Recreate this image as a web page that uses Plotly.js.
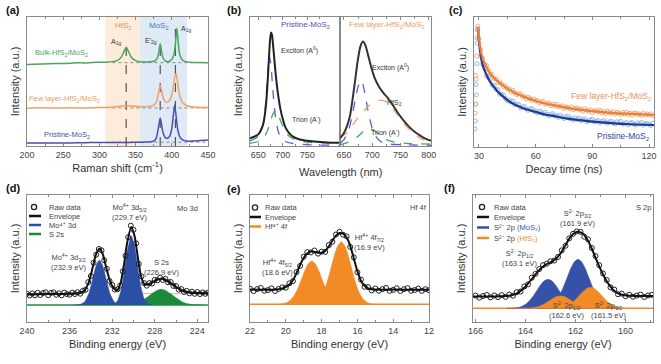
<!DOCTYPE html>
<html><head><meta charset="utf-8">
<script src="https://cdn.plot.ly/plotly-3.0.1.min.js"></script>
<style>html,body{margin:0;padding:0;background:#fff;}#chart{width:661px;height:364px;}</style>
</head><body><div id="chart"></div>
<script>
// ---------- (a) Raman ----------
const ramanTicks = [200,250,300,350,400,450];
const ramanMinor = [225,275,325,375,425];
const pristineX = [200,220,240,260,280,300,320,340,360,370,375,378,380,382,384,386,388,391,394,397,400,402,404,406,408,411,415,420,430,440,450];
const pristineY = [2.3,2.3,2.4,2.4,2.5,2.8,2.7,2.8,3.0,3.2,3.8,5.5,9.5,15.8,21.7,16.0,10.0,6.5,6.0,7.5,13.5,23.0,31.8,22.9,13.3,7.3,4.8,3.8,3.8,4.2,4.7];
const fewX = [200,220,240,260,280,300,320,330,340,350,360,370,375,378,380,382,384,386,388,391,394,397,400,402,404,406,408,411,415,420,430,440,450];
const fewY = [29.3,29.6,29.4,29.6,29.5,29.8,30.3,31.0,31.2,30.8,30.3,30.8,31.5,33.5,36.5,42.0,47.0,42.5,37.5,34.5,34.0,35.5,39.5,45.5,53.5,56.0,49.0,39.0,33.5,31.4,30.2,29.8,29.8];
const bulkX = [200,220,240,260,270,280,290,300,310,320,325,330,334,337,340,344,350,360,370,376,380,382,384,386,388,391,395,400,403,405,407,409,411,414,418,425,435,450];
const bulkY = [63.2,63.6,63.9,64.2,64.6,64.4,64.8,64.9,65.0,65.6,66.4,68.7,73.4,76.6,73.4,68.8,66.2,65.2,65.3,65.8,68.2,72.8,79.3,72.8,68.2,66.0,65.3,67.2,70.9,79.4,91.3,79.4,70.9,67.1,65.6,64.9,64.7,64.6];
const ramanPeakPos = [337,384,405];
const ramanPeakTop = [77,81,91];
const ramanBaseLevels = [3.0,29.5,64.6];
const ramanBaseStart = 318;
const hfs2Region = [308,356];
const mos2Region = [356,421];

// ---------- (b) PL ----------
const wlTicks = [650,700,750];
const wlMinor = [675,725,775];
const wlTicksR = [650,700,750,800];
const wlMinorR = [675,725,775];
const plLX = [633,640,650,655,660,664,667,670,672,674,676,678,680,683,686,690,695,700,706,713,722,735,750,770,790,817];
const plLY = [6,7,9,12,17,26,38,56,70,82,88,86,79,66,54,41,29,21,14,10,7,5,4,3.2,2.8,2.5];
const plLExX = [633,640,650,655,660,663,666,669,672.5,676,679,682,686,691,697,705,720,750,817];
const plLExY = [4,5,8,11,17,25,38,56,70,62,47,33,20,11,6,3.5,2,1,0.5];
const plLTrX = [633,650,660,668,674,679,684.7,690,696,703,712,725,745,770,817];
const plLTrY = [2,3.5,6,11,18,24,27.7,25,19,13,8,5,3.2,2.5,2];
const plRX = [643,650,660,668,674,679,683.6,688,693,699,705,712,720,728,736,745,755,765,775,785,795,804];
const plRY = [6,10,22,45,65,77,81,78,70,60,52,46,41,37,32,26,20,15,11,8,5.5,4];
const plRExX = [643,650,658,664,670,675,679.6,684,689,694,700,707,715,730,760,804];
const plRExY = [2,5,12,22,36,46,51,47,36,24,14,7,3.5,1.5,1,0.5];
const plRHfX = [643,655,665,675,685,695,705,715,722,730,740,750,760,770,780,790,804];
const plRHfY = [7,10,16,22,27,31.5,34.5,35.5,35,32.5,27,21,15.5,11,7.5,5,3];
const plRTrX = [643,655,665,675,685,696,705,715,725,740,760,804];
const plRTrY = [1,2.5,4.5,7.5,11.5,13.6,11.5,8,5,3,2,1.5];

// ---------- (c) TRPL ----------
const decayTicks = [30,60,90,120];
const decayMinor = [45,75,105];
const cRawX = [30,31,32,33,34,35,36,37,38,39,40,41,42,43,44,45,46,47,48,49,50,51,52,53,54,55,56,57,58,59,60,61,62,63,64,65,66,67,68,69,70,71,72,73,74,75,76,77,78,79,80,81,82,83,84,85,86,87,88,89,90,91,92,93,94,95,96,97,98,99,100,101,102,103,104,105,106,107,108,109,110,111,112,113,114,115,116,117,118,119,120,121,122];
const cFewRaw = [83.5,74.9,68.2,63.5,62.6,59.4,55.8,55.9,52.8,52.3,49.4,50.1,48.4,46.4,47.0,44.7,44.7,42.3,43.7,41.7,40.2,40.9,40.9,38.8,38.8,37.0,38.4,37.3,35.9,37.0,35.3,35.8,33.8,34.7,35.0,33.0,33.4,33.8,31.8,32.9,31.7,32.9,30.8,31.2,31.7,29.6,30.8,30.4,29.5,30.8,28.7,29.6,29.9,28.5,29.2,27.6,29.3,28.3,27.4,28.6,26.5,27.8,28.0,27.0,28.3,26.3,27.2,25.9,27.5,26.5,25.9,27.2,25.4,26.6,26.2,25.0,26.6,25.4,26.8,25.1,25.9,24.4,26.0,26.2,25.0,25.5,24.3,26.0,24.6,25.4,24.7,25.5,24.1];
const cPriRaw = [83.3,69.6,63.9,60.8,54.9,53.4,51.5,47.7,47.1,44.4,44.2,40.7,40.6,39.9,37.4,35.5,36.2,34.8,35.4,32.5,32.9,32.7,30.2,30.6,31.2,29.3,28.2,29.2,29.6,27.6,27.7,26.1,27.6,26.7,25.3,26.6,25.1,23.9,25.3,25.7,23.9,24.2,22.8,24.4,23.2,21.9,23.2,23.7,21.7,22.1,20.8,22.4,21.4,22.3,20.3,21.2,21.6,19.4,20.1,20.8,21.3,19.3,19.9,20.3,18.6,19.7,20.3,18.9,18.2,19.4,19.9,18.6,17.6,19.4,18.7,19.8,17.6,18.2,18.8,17.0,18.4,18.9,17.5,17.1,18.5,17.9,18.9,16.8,17.9,18.1,17.3,16.5,18.2];
const cEdgeFewX = [28.0,28.2,28.4,28.6,28.8,29.0,29.2,29.4];
const cEdgeFewY = [26,55,33,52,70,84,90,93];
const cEdgePriX = [27.9,28.1,28.3,28.5,28.7,28.9,29.1,29.3];
const cEdgePriY = [14,20,33,48,40,64,80,91];
const cFitX = [29.5,30,31,32,33,34,36,38,40,43,46,50,55,60,65,70,76,83,90,100,110,123];
const cFewFit = [92,84,74,68,64.5,61.5,56.5,53,50.5,47,44,41,38,35.5,33.5,32,30.3,28.8,27.6,26.3,25.5,24.6];
const cPriFit = [92,82,70,63,59,55.5,50,46,42.5,38.5,35,32,29,27,25,23.7,22,20.7,19.5,18.3,17.5,16.9];

// ---------- (d) Mo 3d ----------
const moTicks = [240,236,232,228,224];
const moMinor = [238,234,230,226];
const dRawX = [240,239.75,239.5,239.25,239,238.75,238.5,238.25,238,237.75,237.5,237.25,237,236.75,236.5,236.25,236,235.75,235.5,235.25,235,234.75,234.5,234.25,234,233.75,233.5,233.25,233,232.75,232.5,232.25,232,231.75,231.5,231.25,231,230.75,230.5,230.25,230,229.75,229.5,229.25,229,228.75,228.5,228.25,228,227.75,227.5,227.25,227,226.75,226.5,226.25,226,225.75,225.5,225.25,225,224.75,224.5,224.25,224,223.75,223.5,223.25,223];
const dRawY = [22.3,20.9,22.5,21.0,23.0,21.2,22.8,23.4,21.1,22.9,23.3,21.4,22.6,21.0,23.2,22.0,21.5,23.1,22.0,23.5,22.3,24.6,25.4,31.4,36.2,46.6,53.0,57.5,56.4,48.6,41.9,32.3,29.2,25.5,25.8,28.7,39.9,52.1,66.8,75.8,72.6,61.9,45.7,35.9,30.6,28.6,30.7,30.3,33.2,32.8,34.9,33.1,34.0,31.3,31.5,28.4,28.3,25.5,25.9,23.6,24.5,22.6,23.9,22.2,23.6,22.0,23.3,22.2,23.1];
const dEnvX = [240,239,238,237,236,235.5,235,234.6,234.2,233.8,233.5,233.2,232.9,232.6,232.2,231.8,231.5,231.2,230.9,230.6,230.2,229.9,229.6,229.3,229,228.6,228.2,227.8,227.4,227,226.5,226,225.5,225,224.5,224,223];
const dEnvY = [21.8,21.9,22.0,22.0,22.2,22.4,22.8,24.8,31.3,44.0,53.7,57.6,53.9,44.3,32.0,26.2,25.0,30.9,44.6,62.0,74.8,67.7,51.5,36.4,30.0,29.5,31.3,33.3,34.1,33.3,30.6,27.6,25.0,23.6,23.0,22.8,22.7];
const dMo1X = [235.6,235.5,235,234.6,234.2,233.8,233.5,233.2,232.9,232.6,232.2,231.8,231.5,231.2,231.1];
const dMo1Y = [13.4,13.4,13.8,15.7,22.2,34.9,44.6,48.8,44.6,34.9,22.2,15.7,14.0,13.4,13.4];
const dMo2X = [232.3,232,231.8,231.5,231.2,230.9,230.6,230.2,229.9,229.6,229.3,229,228.6,228.3];
const dMo2Y = [13.4,13.7,14.2,16.7,23.8,37.6,55.1,67.7,60.2,43.3,27.6,18.4,14.2,13.4];
const dS2sX = [231.5,230.5,230,229.5,229,228.6,228.2,227.8,227.4,227,226.5,226,225.5,225,224.5,224,223.5];
const dS2sY = [13.4,13.6,14.2,15.4,17.7,20.2,22.8,24.9,25.7,24.9,22.2,19.0,16.2,14.5,13.8,13.5,13.4];
const dBaseX = [240,223];
const dBaseY = [13.4,13.4];
const dBgX = [229.3,225.2];
const dBgY = [22.4,22.4];

// ---------- (e) Hf 4f ----------
const hfTicks = [22,20,18,16,14,12];
const hfMinor = [21,19,17,15,13];
const eRawX = [22,21.8,21.6,21.4,21.2,21,20.8,20.6,20.4,20.2,20,19.8,19.6,19.4,19.2,19,18.8,18.6,18.4,18.2,18,17.8,17.6,17.4,17.2,17,16.8,16.6,16.4,16.2,16,15.8,15.6,15.4,15.2,15,14.8,14.6,14.4,14.2,14,13.8,13.6,13.4,13.2,13,12.8,12.6,12.4,12.2,12];
const eRawY = [26.2,24.3,25.9,26.8,24.6,25.1,26.5,24.4,26.0,27.3,27.0,30.4,32.2,39.3,44.2,51.4,55.0,54.8,56.3,53.8,55.4,55.2,60.5,63.2,68.9,71.0,68.7,67.4,59.1,50.9,39.2,33.4,27.7,27.5,24.9,26.4,24.6,25.9,26.8,24.5,25.3,26.6,24.4,25.8,26.7,24.6,25.2,26.3,24.5,25.8,25.0];
const eEnvX = [22,21,20.5,20.2,20,19.8,19.6,19.4,19.2,19,18.8,18.6,18.4,18.2,18,17.8,17.6,17.4,17.2,17,16.8,16.6,16.4,16.2,16,15.8,15.6,15.4,15.2,15,14,13,12];
const eEnvY = [25.5,25.4,25.6,26.5,27.5,29.5,33,38.5,45,50.5,54,55.5,55.2,54.5,54.5,56,59.5,64,68,70,69.5,66.5,60,50,40,32.5,28.5,26.5,25.8,25.5,25.5,25.4,25.3];
const eHf1X = [20.55,20.35,20.15,19.95,19.75,19.55,19.35,19.15,18.95,18.75,18.55,18.35,18.15,17.95,17.75,17.55,17.35,17.15,16.95,16.75,16.55];
const eHf1Y = [13.9,14.06,14.4,15.2,17.1,20.4,25.7,32.7,40.1,45.8,48.0,45.8,40.1,32.7,25.7,20.4,17.1,15.2,14.4,14.06,13.9];
const eHf2X = [18.9,18.7,18.5,18.3,18.1,17.9,17.7,17.5,17.3,17.1,16.9,16.7,16.5,16.3,16.1,15.9,15.7,15.5,15.3,15.1,14.9];
const eHf2Y = [13.9,14.1,14.6,15.8,18.5,23.3,31.0,41.1,51.8,60.0,63.2,60.0,51.8,41.1,31.0,23.3,18.5,15.8,14.6,14.1,13.9];
const eBaseX = [22,12];
const eBaseY = [13.9,13.9];

// ---------- (f) S 2p ----------
const sTicks = [166,164,162,160];
const sMinor = [165,163,161,159];
const fRawX = [166,165.85,165.7,165.55,165.4,165.25,165.1,164.95,164.8,164.65,164.5,164.35,164.2,164.05,163.9,163.75,163.6,163.45,163.3,163.15,163,162.85,162.7,162.55,162.4,162.25,162.1,161.95,161.8,161.65,161.5,161.35,161.2,161.05,160.9,160.75,160.6,160.45,160.3,160.15,160,159.85,159.7,159.55,159.4,159.25,159.1,158.95];
const fRawY = [20.8,19.2,20.5,21.3,19.4,20.9,19.6,21.2,19.8,21.6,20.7,23.5,24.0,28.0,29.6,34.9,37.9,41.7,44.8,45.9,47.8,48.4,51.2,56.4,60.0,65.9,69.4,71.3,71.0,67.2,65.1,58.3,51.9,44.7,38.2,33.0,27.3,25.6,21.8,22.3,20.3,21.5,19.9,20.8,21.6,19.7,20.9,21.4];
const fEnvX = [166.1,165.5,165,164.7,164.4,164.2,164,163.8,163.6,163.4,163.2,163,162.8,162.6,162.4,162.2,162,161.9,161.7,161.5,161.3,161.1,160.9,160.7,160.5,160.3,160.1,159.8,159.5,158.9];
const fEnvY = [20.0,20.0,20.2,20.6,22,24.5,28,32.5,37.5,42,45,47,49.5,54,60.5,67,70.5,71,69.5,64,55.5,46,37.5,30.5,25.5,22.5,21.2,20.6,20.5,20.5];
const fMoAX = [164.75,164.6,164.45,164.3,164.15,164,163.85,163.7,163.55,163.4,163.25,163.1,162.95,162.8,162.65,162.5,162.35,162.2,162.05,161.9,161.75,161.6,161.45];
const fMoAY = [10.8,10.9,11.05,11.45,12.3,13.9,16.5,20.2,24.6,29.1,32.4,33.6,32.4,29.1,24.6,20.2,16.5,13.9,12.3,11.45,11.05,10.9,10.8];
const fMoBX = [163.55,163.4,163.25,163.1,162.95,162.8,162.65,162.5,162.35,162.2,162.05,161.9,161.75,161.6,161.45,161.3,161.15,161,160.85,160.7,160.55,160.4,160.25];
const fMoBY = [10.8,10.95,11.2,11.9,13.35,16.0,20.4,26.7,34.2,41.7,47.3,49.4,47.3,41.7,34.2,26.7,20.4,16.0,13.35,11.9,11.2,10.95,10.8];
const fHfCX = [164.25,164.1,163.95,163.8,163.65,163.5,163.35,163.2,163.05,162.9,162.75,162.6,162.45,162.3,162.15,162,161.85,161.7,161.55,161.4,161.25,161.1,160.95];
const fHfCY = [10.8,10.84,10.9,11.1,11.45,12.1,13.2,14.8,16.7,18.6,20.0,20.5,20.0,18.6,16.7,14.8,13.2,12.1,11.45,11.1,10.9,10.84,10.8];
const fHfDX = [163.05,162.9,162.75,162.6,162.45,162.3,162.15,162,161.85,161.7,161.55,161.4,161.25,161.1,160.95,160.8,160.65,160.5,160.35,160.2,160.05,159.9,159.75];
const fHfDY = [10.8,10.86,11.0,11.3,11.9,13.0,14.9,17.6,20.8,24.0,26.4,27.3,26.4,24.0,20.8,17.6,14.9,13.0,11.9,11.3,11.0,10.86,10.8];
const fBaseX = [166.1,158.9];
const fBaseY = [10.8,10.8];

// ---------- layout helpers ----------
const W = 661, H = 364;
const fx = p => p / W, fy = p => 1 - p / H;
const FONT = 'Liberation Sans, Arial, sans-serif';
const GRAY = '#8a8a8a';
const C = {
  green:'#4aa65a', orange:'#f3a062', purple:'#4c4fa6', blueDash:'#5a5fd0', greenDash:'#46a85a', orangeDash:'#f3a062',
  cBlueRaw:'#8dbbe8', cOrgRaw:'#f4a974', cBlueFit:'#26358f', cOrgFit:'#e8803a',
  dBlue:'#2b4ea6', dGreen:'#1b8b3b', hfOrange:'#f28a26', fBlue:'#3651a8'
};
const boxes = {
  a:[27,208,17,146], bL:[250,340,17,146], bR:[340,431,17,146], c:[474,654,17,147],
  d:[27,208,195,322], e:[250,429,195,322], f:[473,653,195,322]
};
function dom(b){ return {x:[fx(b[0]), fx(b[1])], y:[fy(b[3]), fy(b[2])]}; }
function mkX(b, anchor, range, tv, mv, title){
  const d = dom(b);
  return {domain:d.x, anchor:anchor, range:range, autorange:false, showline:true, mirror:'ticks', linecolor:GRAY, linewidth:1,
    ticks:'inside', ticklen:3, tickwidth:1, tickcolor:GRAY, tickmode:'array', tickvals:tv, showgrid:false, zeroline:false,
    tickfont:{family:FONT, size:9, color:'#444'},
    minor:{tickmode:'array', tickvals:mv, ticks:'inside', ticklen:2, tickcolor:GRAY, showgrid:false},
    title: title ? {text:title, font:{family:FONT, size:11, color:'#333'}, standoff:5} : {text:''}};
}
function mkY(b, anchor, titled){
  const d = dom(b);
  return {domain:d.y, anchor:anchor, range:[0,100], autorange:false, showline:true, mirror:true, linecolor:GRAY, linewidth:1,
    ticks:'', showticklabels:false, showgrid:false, zeroline:false,
    title: titled ? {text:'Intensity (a.u.)', font:{family:FONT, size:11, color:'#333'}, standoff:4} : {text:''}};
}
function ln(xa, ya, x, y, color, width, dash, shape){
  return {type:'scatter', mode:'lines', xaxis:xa, yaxis:ya, x:x, y:y, line:{color:color, width:width, dash:dash||'solid', shape:shape||'spline', smoothing:0.7}, hoverinfo:'skip', showlegend:false};
}
function fl(xa, ya, x, y, color){
  return {type:'scatter', mode:'lines', xaxis:xa, yaxis:ya, x:x, y:y, fill:'toself', fillcolor:color, line:{color:color, width:0.5, shape:'spline', smoothing:0.5}, hoverinfo:'skip', showlegend:false};
}
function pts(xa, ya, x, y, color, size){
  return {type:'scatter', mode:'markers', xaxis:xa, yaxis:ya, x:x, y:y, marker:{symbol:'circle-open', size:size, color:color, line:{width:1, color:color}}, hoverinfo:'skip', showlegend:false};
}
function T(px, py, text, color, size, xa){
  return {xref:'paper', yref:'paper', x:fx(px), y:fy(py), text:text, showarrow:false, borderpad:0,
    font:{family:FONT, size:size||7.5, color:color||'#444'}, xanchor:xa||'center', yanchor:'middle'};
}

const traces = [];
// (a)
ramanPeakPos.forEach((p,i) => traces.push(ln('x','y',[p,p],[0,ramanPeakTop[i]],'#555',1.2,'dash','linear')));
ramanBaseLevels.forEach(v => traces.push(ln('x','y',[ramanBaseStart,ramanTicks[ramanTicks.length-1]],[v,v],'#888',1,'dot','linear')));
traces.push(ln('x','y',pristineX,pristineY,C.purple,1.5));
traces.push(ln('x','y',fewX,fewY,C.orange,1.5));
traces.push(ln('x','y',bulkX,bulkY,C.green,1.5));
// (b)
traces.push(ln('x2','y2',plLExX,plLExY,C.blueDash,1.3,'dash'));
traces.push(ln('x2','y2',plLTrX,plLTrY,C.greenDash,1.3,'dash'));
traces.push(ln('x2','y2',plLX,plLY,'#222',2));
traces.push(ln('x3','y3',plRExX,plRExY,C.blueDash,1.3,'dash'));
traces.push(ln('x3','y3',plRHfX,plRHfY,C.orangeDash,1.3,'dash'));
traces.push(ln('x3','y3',plRTrX,plRTrY,C.greenDash,1.3,'dash'));
traces.push(ln('x3','y3',plRX,plRY,'#333',2));
// (c)
traces.push(pts('x4','y4',cRawX,cPriRaw,C.cBlueRaw,4));
traces.push(pts('x4','y4',cEdgePriX,cEdgePriY,C.cBlueRaw,4));
traces.push(pts('x4','y4',cRawX,cFewRaw,C.cOrgRaw,4));
traces.push(pts('x4','y4',cEdgeFewX,cEdgeFewY,C.cOrgRaw,4));
traces.push(ln('x4','y4',cFitX,cPriFit,C.cBlueFit,2.2));
traces.push(ln('x4','y4',cFitX,cFewFit,C.cOrgFit,2.2));
// (d)
traces.push(ln('x5','y5',dBaseX,dBaseY,C.dGreen,1.5,'solid','linear'));
traces.push(ln('x5','y5',dBgX,dBgY,'#c9c48a',1,'solid','linear'));
traces.push(fl('x5','y5',dS2sX,dS2sY,C.dGreen));
traces.push(fl('x5','y5',dMo1X,dMo1Y,C.dBlue));
traces.push(fl('x5','y5',dMo2X,dMo2Y,C.dBlue));
traces.push(pts('x5','y5',dRawX,dRawY,'#222',5));
traces.push(ln('x5','y5',dEnvX,dEnvY,'#111',2));
// (e)
traces.push(ln('x6','y6',eBaseX,eBaseY,C.hfOrange,1.5,'solid','linear'));
traces.push(fl('x6','y6',eHf1X,eHf1Y,C.hfOrange));
traces.push(fl('x6','y6',eHf2X,eHf2Y,C.hfOrange));
traces.push(pts('x6','y6',eRawX,eRawY,'#222',5));
traces.push(ln('x6','y6',eEnvX,eEnvY,'#111',2));
// (f)
traces.push(ln('x7','y7',fBaseX,fBaseY,C.hfOrange,1.5,'solid','linear'));
traces.push(fl('x7','y7',fMoAX,fMoAY,C.fBlue));
traces.push(fl('x7','y7',fMoBX,fMoBY,C.fBlue));
traces.push(fl('x7','y7',fHfCX,fHfCY,C.hfOrange));
traces.push(fl('x7','y7',fHfDX,fHfDY,C.hfOrange));
traces.push(pts('x7','y7',fRawX,fRawY,'#222',5));
traces.push(ln('x7','y7',fEnvX,fEnvY,'#111',2));

const shapes = [
  {type:'rect', xref:'x', yref:'y domain', x0:hfs2Region[0], x1:hfs2Region[1], y0:0, y1:1, fillcolor:'#fdecdc', line:{width:0}, layer:'below'},
  {type:'rect', xref:'x', yref:'y domain', x0:mos2Region[0], x1:mos2Region[1], y0:0, y1:1, fillcolor:'#deeaf6', line:{width:0}, layer:'below'}
];
function legCircle(cx, cy){ shapes.push({type:'circle', xref:'paper', yref:'paper', x0:fx(cx-2.6), x1:fx(cx+2.6), y0:fy(cy+2.6), y1:fy(cy-2.6), line:{color:'#222', width:1.3}}); }
function legLine(x0, x1, y, color){ shapes.push({type:'line', xref:'paper', yref:'paper', x0:fx(x0), x1:fx(x1), y0:fy(y), y1:fy(y), line:{color:color, width:2.5}}); }

const ann = [];
// panel labels
ann.push(T(13,10,'<b>(a)</b>','#111',11));
ann.push(T(234,10,'<b>(b)</b>','#111',11));
ann.push(T(456,10,'<b>(c)</b>','#111',11));
ann.push(T(13,188,'<b>(d)</b>','#111',11));
ann.push(T(234,189,'<b>(e)</b>','#111',11));
ann.push(T(449,188,'<b>(f)</b>','#111',11));
// (a)
ann.push(T(123,26,'HfS<sub>2</sub>','#e8925a',8));
ann.push(T(159,26,'MoS<sub>2</sub>','#4a78b8',8));
ann.push(T(116,42,'A<sub>1g</sub>','#333',7));
ann.push(T(151,41,'E\'<sub>2g</sub>','#333',7));
ann.push(T(186,29,'A<sub>1g</sub>','#333',7));
ann.push(T(61,53,'Bulk-HfS<sub>2</sub>/MoS<sub>2</sub>',C.green,7.5));
ann.push(T(64,99,'Few layer-HfS<sub>2</sub>/MoS<sub>2</sub>','#ee9a5c',7.5));
ann.push(T(67,135,'Pristine-MoS<sub>2</sub>',C.purple,7.5));
// (b)
ann.push(T(305,25,'Pristine-MoS<sub>2</sub>','#5050b0',8));
ann.push(T(387,25,'Few layer-HfS<sub>2</sub>/MoS<sub>2</sub>','#ee9a5c',8));
ann.push(T(299,51,'Exciton (A<sup>0</sup>)','#333',7));
ann.push(T(306,120,'Trion (A<sup>-</sup>)','#333',7));
ann.push(T(390,67,'Exciton (A<sup>0</sup>)','#333',7));
ann.push(T(395,103,'HfS<sub>2</sub>','#333',7));
ann.push(T(385,132,'Trion (A<sup>-</sup>)','#333',7));
ann.push(T(340,172,'Wavelength (nm)','#333',11));
// (c)
ann.push(T(652,97,'Few layer-HfS<sub>2</sub>/MoS<sub>2</sub>','#e8925a',8.5,'right'));
ann.push(T(650,136,'Pristine-MoS<sub>2</sub>','#34449a',8.5,'right'));
// (d)
ann.push(T(130,212,'Mo<sup>4+</sup> 3d<sub>5/2</sub><br>(229.7 eV)','#444',7.5));
ann.push(T(187,208,'Mo 3d','#444',7.5));
ann.push(T(69,262,'Mo<sup>4+</sup> 3d<sub>3/2</sub><br>(232.9 eV)','#444',7.5));
ann.push(T(162,267,'S 2s<br>(226.9 eV)','#444',7.5));
legCircle(34,207); legLine(29,41,216,'#111'); legLine(29,41,225,C.dBlue); legLine(29,41,234,C.dGreen);
ann.push(T(48,207,'Raw data','#444',7.5,'left'));
ann.push(T(48,216,'Envelope','#444',7.5,'left'));
ann.push(T(48,225,'Mo⁴⁺ 3d','#444',7.5,'left'));
ann.push(T(48,234,'S 2s','#444',7.5,'left'));
// (e)
ann.push(T(418,207,'Hf 4f','#444',7.5));
ann.push(T(369,242,'Hf<sup>4+</sup> 4f<sub>7/2</sub><br>(16.9 eV)','#444',7.5));
ann.push(T(277,267,'Hf<sup>4+</sup> 4f<sub>5/2</sub><br>(18.6 eV)','#444',7.5));
legCircle(255,207.5); legLine(250,261,217,'#111'); legLine(250,261,226.5,C.hfOrange);
ann.push(T(264,207.5,'Raw data','#444',7.5,'left'));
ann.push(T(264,217,'Envelope','#444',7.5,'left'));
ann.push(T(264,226.5,'Hf⁴⁺ 4f','#444',7.5,'left'));
// (f)
ann.push(T(643,207,'S 2p','#444',7.5));
ann.push(T(578,218,'S<sup>2-</sup> 2p<sub>3/2</sub><br>(161.9 eV)','#444',7.5));
ann.push(T(520,258,'S<sup>2-</sup> 2p<sub>1/2</sub><br>(163.1 eV)','#444',7.5));
ann.push(T(567,310,'S<sup>2-</sup> 2p<sub>1/2</sub><br>(162.6 eV)','#444',7.5));
ann.push(T(609,310,'S<sup>2-</sup> 2p<sub>3/2</sub><br>(161.5 eV)','#444',7.5));
legCircle(482,207); legLine(477,489,217,'#111'); legLine(477,489,227.5,C.fBlue); legLine(477,489,238,C.hfOrange);
ann.push(T(493,207,'Raw data','#444',7.5,'left'));
ann.push(T(493,217,'Envelope','#444',7.5,'left'));
ann.push(T(493,227.5,'S²⁻ 2p <span style="color:'+C.fBlue+'">(MoS₂)</span>','#444',7.5,'left'));
ann.push(T(493,238,'S²⁻ 2p <span style="color:'+C.hfOrange+'">(HfS₂)</span>','#444',7.5,'left'));

const layout = {
  width:W, height:H, margin:{l:0,r:0,t:0,b:0}, paper_bgcolor:'#fff', plot_bgcolor:'rgba(0,0,0,0)', showlegend:false,
  font:{family:FONT, color:'#444'},
  xaxis: mkX(boxes.a,'y',[200,450],ramanTicks,ramanMinor,'Raman shift (cm<sup>-1</sup>)'),
  yaxis: mkY(boxes.a,'x',true),
  xaxis2: mkX(boxes.bL,'y2',[633,817],wlTicks,wlMinor,''),
  yaxis2: mkY(boxes.bL,'x2',true),
  xaxis3: mkX(boxes.bR,'y3',[643,804],wlTicksR,wlMinorR,''),
  yaxis3: mkY(boxes.bR,'x3',false),
  xaxis4: mkX(boxes.c,'y4',[27.4,122.6],decayTicks,decayMinor,'Decay time (ns)'),
  yaxis4: mkY(boxes.c,'x4',true),
  xaxis5: mkX(boxes.d,'y5',[240,223],moTicks,moMinor,'Binding energy (eV)'),
  yaxis5: mkY(boxes.d,'x5',true),
  xaxis6: mkX(boxes.e,'y6',[22,12],hfTicks,hfMinor,'Binding energy (eV)'),
  yaxis6: mkY(boxes.e,'x6',true),
  xaxis7: mkX(boxes.f,'y7',[166.1,158.9],sTicks,sMinor,'Binding energy (eV)'),
  yaxis7: mkY(boxes.f,'x7',true),
  shapes: shapes, annotations: ann
};
Plotly.newPlot('chart', traces, layout, {staticPlot:true, displayModeBar:false});
</script></body></html>
